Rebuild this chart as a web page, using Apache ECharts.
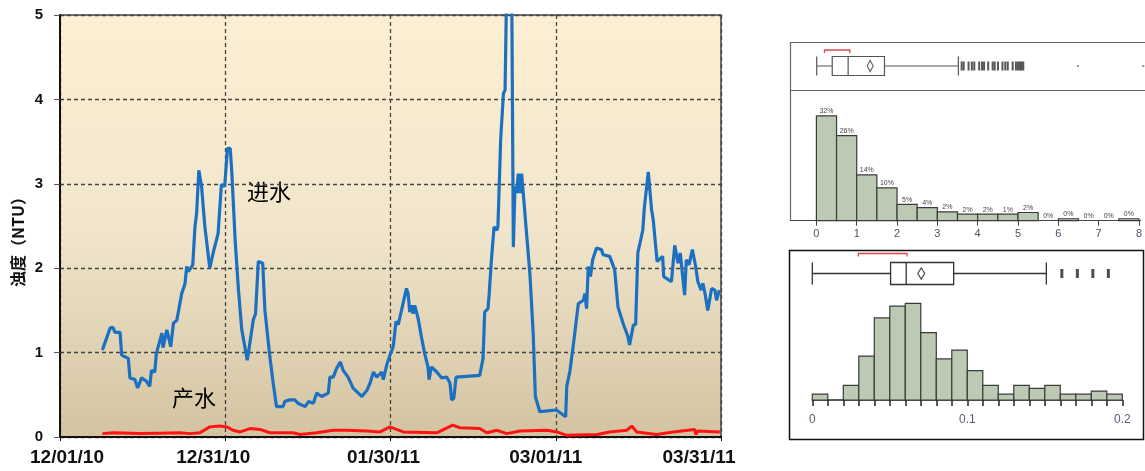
<!DOCTYPE html>
<html><head><meta charset="utf-8">
<script src="https://cdn.jsdelivr.net/npm/echarts@6/dist/echarts.min.js"></script>
<style>html,body{margin:0;padding:0;background:#fff}#c{width:1145px;height:471px}</style>
</head><body><div id="c"></div>
<script>
// ---------- main chart data ----------
const dateLabels = ['12/01/10','12/31/10','01/30/11','03/01/11','03/31/11'];
const yTickLabels = ['0','1','2','3','4','5'];
// [day since 12/01/10, NTU]
const inflow = [
[7.7,1.03],[9.1,1.29],[9.6,1.30],[10.0,1.24],[10.9,1.24],[11.2,0.97],[12.4,0.93],[12.7,0.70],[13.6,0.68],[14.1,0.58],
[14.8,0.70],[15.7,0.66],[16.3,0.60],[16.6,0.79],[17.2,0.77],[17.5,0.99],[18.5,1.23],[18.7,1.06],[19.4,1.27],[20.1,1.07],
[20.6,1.35],[21.2,1.38],[22.1,1.70],[22.7,1.82],[23.0,2.02],[23.3,1.96],[24.1,2.04],[24.5,2.49],[24.8,2.65],[25.2,3.16],
[25.7,2.97],[26.3,2.49],[27.2,2.00],[27.8,2.18],[28.7,2.41],[29.3,2.99],[29.9,2.97],[30.4,3.42],[30.9,3.42],[31.2,3.13],
[31.8,2.33],[32.4,1.74],[33.0,1.27],[33.3,1.25],[34.0,0.91],[35.1,1.39],[35.5,1.46],[36.0,2.08],[36.8,2.06],[37.2,1.50],
[38.1,0.95],[38.7,0.64],[39.3,0.36],[40.5,0.36],[40.8,0.42],[41.7,0.44],[42.6,0.44],[43.2,0.40],[44.5,0.36],[45.1,0.42],
[46.0,0.40],[46.6,0.52],[47.5,0.48],[48.7,0.52],[49.0,0.71],[49.6,0.71],[50.2,0.81],[50.9,0.89],[51.4,0.79],[52.3,0.71],
[53.2,0.58],[54.8,0.48],[55.7,0.55],[56.3,0.64],[56.9,0.77],[57.5,0.71],[58.4,0.77],[58.7,0.68],[59.3,0.85],[59.9,0.97],
[60.5,1.07],[61.0,1.37],[61.4,1.33],[62.0,1.50],[62.3,1.48],[62.9,1.76],[63.2,1.70],[63.5,1.48],[63.8,1.56],[64.1,1.46],
[64.4,1.56],[65.0,1.41],[65.6,1.19],[66.2,0.99],[66.8,0.83],[67.0,0.68],[67.4,0.83],[68.4,0.77],[69.3,0.70],[70.2,0.71],
[70.8,0.64],[71.1,0.44],[71.5,0.46],[71.9,0.71],[76.2,0.73],[76.8,0.93],[77.1,1.48],[77.7,1.52],[77.9,1.68],[78.3,2.08],
[78.8,2.49],[79.3,2.45],[79.5,2.49],[80.0,3.52],[80.5,4.07],[80.8,4.11],[81.1,5.40],[82.0,5.40],[82.3,2.25],[82.6,2.97],
[82.9,2.89],[83.2,3.12],[83.5,2.89],[83.8,3.12],[84.1,2.89],[84.7,2.41],[85.3,1.94],[85.9,1.23],[86.3,0.48],[87.1,0.30],
[90.1,0.32],[91.8,0.24],[92.0,0.60],[92.6,0.79],[93.3,1.15],[94.1,1.58],[95.0,1.62],[95.3,1.70],[95.6,1.52],[95.9,2.02],
[96.3,1.90],[96.7,2.10],[97.4,2.24],[98.3,2.22],[98.6,2.16],[99.8,2.14],[100.7,1.98],[101.3,1.54],[102.2,1.35],[103.1,1.19],
[103.4,1.09],[104.1,1.33],[104.5,1.33],[104.9,2.18],[105.8,2.45],[106.1,2.73],[106.8,3.14],[107.4,2.69],[107.7,2.57],[108.4,2.08],
[109.4,2.14],[109.6,1.90],[110.1,1.88],[111.0,1.84],[111.6,2.27],[112.2,2.06],[112.6,2.18],[113.4,1.68],[113.7,2.10],[114.2,2.04],
[114.8,2.22],[115.4,2.02],[115.8,1.84],[116.4,1.74],[116.7,1.82],[117.1,1.70],[117.6,1.50],[118.3,1.76],[118.9,1.74],[119.2,1.62],
[119.7,1.74]
];
const outflow = [
[7.7,0.04],[9.7,0.05],[14.5,0.04],[18.1,0.045],[21.8,0.05],[23.6,0.04],[25.4,0.05],[27.2,0.12],[29.0,0.13],[30.3,0.12],
[31.4,0.08],[32.7,0.06],[34.5,0.10],[36.3,0.09],[38.1,0.05],[42.3,0.05],[43.6,0.03],[46.6,0.05],[49.6,0.08],[52.0,0.08],
[55.7,0.07],[58.1,0.06],[59.9,0.12],[62.3,0.06],[68.4,0.05],[71.3,0.14],[72.6,0.11],[76.2,0.10],[77.5,0.05],[79.3,0.08],
[81.1,0.04],[83.5,0.07],[88.4,0.08],[90.2,0.06],[92.0,0.02],[97.5,0.03],[99.8,0.06],[102.9,0.08],[103.8,0.13],[104.7,0.06],
[108.3,0.03],[111.3,0.06],[115.2,0.09],[115.4,0.03],[115.8,0.07],[119.8,0.06]
];

// ---------- upper right panel (inflow distribution) ----------
const topBinStart = [0,0.5,1,1.5,2,2.5,3,3.5,4,4.5,5,5.5,6,6.5,7,7.5];
const topBinPct   = [32,26,14,10,5,4,2.7,2,2,2,2.5,0,0.6,0,0,0.6];
const topBinLabel = ['32%','26%','14%','10%','5%','4%','2%','2%','2%','1%','2%','0%','0%','0%','0%','0%'];
const topTickLabels = [0,1,2,3,4,5,6,7,8];
const topBox = [0, 0.38, 0.77, 1.66, 3.47];   // min, Q1, median, Q3, upper whisker
const topMean = 1.31;
const topShortest = [0.19, 0.81];
const topOutliers = [3.55,3.6,3.72,3.8,3.86,3.98,4.05,4.1,4.2,4.31,4.36,4.44,4.55,4.62,4.68,4.8,4.88,4.93,4.98,5.02,5.06];
const topFarOutliers = [6.4, 8.0];

// ---------- lower right panel (outflow distribution) ----------
const botBinStart = [0,0.01,0.02,0.03,0.04,0.05,0.06,0.07,0.08,0.09,0.10,0.11,0.12,0.13,0.14,0.15,0.16,0.17,0.18,0.19];
const botBinCount = [2,0,5,15,28,32,33,23,14,17,10,5,2,5,4,5,2,2,3,2];
const botTickLabels = [0,0.1,0.2];
const botBox = [0, 0.0505, 0.0606, 0.0912, 0.151];
const botMean = 0.0703;
const botShortest = [0.0297, 0.0611];
const botOutliers = [0.161,0.171,0.181,0.191];

const FONT = 'Liberation Sans, Arial, sans-serif';
const CJK = 'Noto Sans CJK SC, sans-serif';
const labelShift = [7,-12,-7,-10,-22];   // horizontal nudge of date labels (px)

function histSeries(xi, starts, width, vals, labels) {
  return {
    type:'custom', xAxisIndex:xi, yAxisIndex:xi, clip:false,
    data: starts.map((s,i)=>[s, s+width, vals[i]]),
    renderItem: function(params, api){
      const x0=api.value(0), x1=api.value(1), h=api.value(2);
      const p0=api.coord([x0,h]), p1=api.coord([x1,0]);
      const ch=[];
      if (h>0) ch.push({type:'rect', shape:{x:p0[0],y:p0[1],width:p1[0]-p0[0],height:p1[1]-p0[1]},
        style:{fill:'#bccab4', stroke:'#3b3b3b', lineWidth:1.2}});
      if (labels) ch.push({type:'text', x:(p0[0]+p1[0])/2, y:p0[1]-1,
        style:{text:labels[params.dataIndex], fontSize:7, fill:'#444', align:'center', verticalAlign:'bottom', fontFamily:FONT}});
      return {type:'group', children:ch};
    }
  };
}
function bracketSeries(xi, range, offset) {
  return {
    type:'custom', xAxisIndex:xi, yAxisIndex:xi, clip:false, z:5,
    data:[[range[0], range[1]]],
    renderItem: function(params, api){
      const a=api.coord([api.value(0),0]), b=api.coord([api.value(1),0]);
      const y=a[1]-offset;
      return {type:'polyline', shape:{points:[[a[0],y+3],[a[0],y],[b[0],y],[b[0],y+3]]},
        style:{stroke:'#e0474c', lineWidth:1.3, fill:null}};
    }
  };
}

const rich = {};
labelShift.forEach((s,i)=>{
  rich['d'+i] = {fontSize:19, fontWeight:'bold', color:'#111', fontFamily:FONT,
    padding: s>=0 ? [0,0,0,2*s] : [0,-2*s,0,0]};
});

const chart = echarts.init(document.getElementById('c'), null, {renderer:'canvas'});
const topMin = -0.63, topMax = 8.042;
const hidden = {show:false};
chart.setOption({
  animation:false,
  grid:[
    {left:60, top:15, width:661, height:422, show:true, borderColor:'#444', borderWidth:1.5,
     backgroundColor:{type:'linear',x:0,y:0,x2:0,y2:1,colorStops:[
       {offset:0,color:'#fdefd3'},{offset:0.5,color:'#f1e6cc'},{offset:1,color:'#d3c3a1'}]}},
    {left:791, right:0, top:99.6, height:121.1},
    {left:791, right:0, top:46, height:40},
    {left:812.3, width:310, top:294.5, height:105.5},
    {left:812.3, width:310, top:258, height:31}
  ],
  xAxis:[
    {gridIndex:0, type:'value', min:0, max:120, interval:30,
     axisLine:{lineStyle:{color:'#111', width:2}}, axisTick:{length:4, lineStyle:{color:'#111'}},
     axisLabel:{formatter:v=>{const i=Math.round(v/30); return '{d'+i+'|'+dateLabels[i]+'}';}, rich:rich,
       margin:11, showMinLabel:true, showMaxLabel:true},
     splitLine:{show:true, lineStyle:{color:'#444', type:[4,3], width:1.3}}},
    {gridIndex:1, type:'value', min:topMin, max:topMax,
     axisLine:{lineStyle:{color:'#444', width:1.2}},
     axisTick:{customValues:topTickLabels, length:5, lineStyle:{color:'#444'}},
     axisLabel:{customValues:topTickLabels, fontSize:11, color:'#4b5266', margin:8, fontFamily:FONT},
     splitLine:hidden},
    {gridIndex:2, type:'value', min:topMin, max:topMax, show:false},
    {gridIndex:3, type:'value', min:0, max:0.2,
     axisLine:{lineStyle:{color:'#222', width:1.5}},
     axisTick:{customValues:botBinStart.concat([0.2]), length:6, lineStyle:{color:'#222', width:1.5}},
     axisLabel:{customValues:botTickLabels, fontSize:12, color:'#5a6070', margin:14, fontFamily:FONT},
     splitLine:hidden},
    {gridIndex:4, type:'value', min:0, max:0.2, show:false}
  ],
  yAxis:[
    {gridIndex:0, type:'value', min:0, max:5, interval:1,
     axisLine:{show:true, lineStyle:{color:'#111', width:2}}, axisTick:{show:true, length:6, lineStyle:{color:'#555'}},
     axisLabel:{formatter:v=>yTickLabels[v], fontSize:15, fontWeight:'bold', color:'#111', margin:17, fontFamily:FONT},
     splitLine:{show:true, lineStyle:{color:'#444', type:[4,3], width:1.3}}},
    {gridIndex:1, type:'value', min:0, max:37, show:false},
    {gridIndex:2, type:'category', data:['in'], show:false},
    {gridIndex:3, type:'value', min:0, max:36, show:false},
    {gridIndex:4, type:'category', data:['out'], show:false}
  ],
  series:[
    {type:'line', xAxisIndex:0, yAxisIndex:0, data:outflow, showSymbol:false, clip:true,
     lineStyle:{color:'#ff1414', width:3}, z:3},
    {type:'line', xAxisIndex:0, yAxisIndex:0, data:inflow, showSymbol:false, clip:true,
     lineStyle:{color:'#1c70c2', width:3.2}, z:4},
    histSeries(1, topBinStart, 0.5, topBinPct, topBinLabel),
    {type:'boxplot', xAxisIndex:2, yAxisIndex:2, data:[topBox], boxWidth:[19,19],
     itemStyle:{color:'#fff', borderColor:'#555', borderWidth:1.2}},
    {type:'scatter', xAxisIndex:2, yAxisIndex:2, data:[[topMean,0]], symbol:'diamond', symbolSize:[6,11],
     itemStyle:{color:'#fff', borderColor:'#333', borderWidth:1.2}, z:5},
    {type:'scatter', xAxisIndex:2, yAxisIndex:2, data:topOutliers.map(v=>[v,0]), symbol:'rect', symbolSize:[2,9],
     itemStyle:{color:'#3a3a3a', opacity:0.85}},
    {type:'scatter', xAxisIndex:2, yAxisIndex:2, data:topFarOutliers.map(v=>[v,0]), symbol:'rect', symbolSize:[2,2],
     itemStyle:{color:'#777'}},
    bracketSeries(2, topShortest, 16),
    histSeries(3, botBinStart, 0.01, botBinCount, null),
    {type:'boxplot', xAxisIndex:4, yAxisIndex:4, data:[botBox], boxWidth:[22,22],
     itemStyle:{color:'#fff', borderColor:'#333', borderWidth:1.3}},
    {type:'scatter', xAxisIndex:4, yAxisIndex:4, data:[[botMean,0]], symbol:'diamond', symbolSize:[7,11],
     itemStyle:{color:'#fff', borderColor:'#222', borderWidth:1.3}, z:5},
    {type:'scatter', xAxisIndex:4, yAxisIndex:4, data:botOutliers.map(v=>[v,0]), symbol:'rect', symbolSize:[3,9],
     itemStyle:{color:'#222'}},
    bracketSeries(4, botShortest, 20)
  ],
  graphic:[
    {type:'text', x:18, y:238, rotation:Math.PI/2, style:{text:'浊度（NTU）', font:'bold 16px '+CJK, fill:'#111', align:'center', verticalAlign:'middle'}},
    {type:'text', x:247, y:181, style:{text:'进水', font:'22px '+CJK, fill:'#000'}},
    {type:'text', x:172, y:387, style:{text:'产水', font:'22px '+CJK, fill:'#000'}},
    {type:'polyline', shape:{points:[[1145,42.5],[790.5,42.5],[790.5,221]]}, style:{stroke:'#666', lineWidth:1.2, fill:null}},
    {type:'line', shape:{x1:790.5,y1:90.5,x2:1145,y2:90.5}, style:{stroke:'#666', lineWidth:1.2}},
    {type:'rect', shape:{x:789.5,y:250.5,width:354,height:189}, style:{stroke:'#111', lineWidth:1.5, fill:null}}
  ]
});
</script>
</body></html>
